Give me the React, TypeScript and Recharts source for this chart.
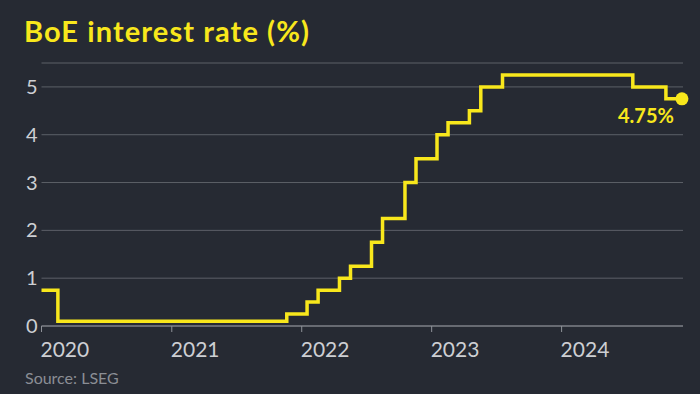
import { LineChart, Line, XAxis, YAxis, CartesianGrid } from 'recharts'

// step dates and the rate that starts on each
const dates = [
  '2020-01-01', '2020-02-16', '2021-11-20', '2022-01-16', '2022-02-16',
  '2022-04-17', '2022-05-18', '2022-07-16', '2022-08-16', '2022-10-18',
  '2022-11-18', '2023-01-16', '2023-02-16', '2023-04-17', '2023-05-19',
  '2023-07-19', '2024-07-19', '2024-10-20', '2024-12-04'
]
const rates = [
  0.75, 0.1, 0.25, 0.5, 0.75,
  1.0, 1.25, 1.75, 2.25, 3.0,
  3.5, 4.0, 4.25, 4.5, 5.0,
  5.25, 5.0, 4.75, 4.75
]
const yearTicks = ['2020', '2021', '2022', '2023', '2024']
const rateTicks = [0, 1, 2, 3, 4, 5]

const ts = (d: string) => new Date(d + 'T00:00:00Z').getTime()

const data = dates.map((d, i) => ({ t: ts(d), rate: rates[i] }))
const xTicks = yearTicks.map((y) => ts(y + '-01-01'))

const BG = '#262a33'
const YELLOW = '#f8e71c'
const GRID = '#5c6068'
const TEXT = '#cdcfd3'
const FONT = 'Lato, "Noto Sans", sans-serif'

function XTick({ x, y, payload }: any) {
  return (
    <g>
      <line x1={x} x2={x} y1={y - 8} y2={y - 2} stroke="#8e9198" strokeWidth={1} />
      <text x={x - 1} y={y + 23} fill={TEXT} fontSize={21} fontFamily={FONT} textAnchor="start">
        {new Date(payload.value).getUTCFullYear()}
      </text>
    </g>
  )
}

function YTick({ x, y, payload }: any) {
  return (
    <text x={x + 4} y={y + 7} fill={TEXT} fontSize={20} fontFamily={FONT} textAnchor="end">
      {payload.value}
    </text>
  )
}

function EndDot(props: any) {
  const { cx, cy, index } = props
  if (index !== data.length - 1) return <g key={index} />
  return (
    <g key={index}>
      <circle cx={cx} cy={cy} r={6.5} fill={YELLOW} />
      <text x={cx - 8} y={cy + 24} fill={YELLOW} fontSize={20} fontWeight={700} fontFamily={FONT} textAnchor="end">
        {rates[rates.length - 1]}%
      </text>
    </g>
  )
}

export default function App() {
  return (
    <div style={{ position: 'absolute', left: 0, top: 0, width: 700, height: 394, background: BG }}>
      <div
        style={{
          position: 'absolute', left: 24, top: 13, color: YELLOW, fontFamily: FONT,
          fontWeight: 700, fontSize: 29, lineHeight: '36px', letterSpacing: '1.1px'
        }}
      >
        BoE interest rate (%)
      </div>
      <div
        style={{
          position: 'absolute', left: 25, top: 368, color: '#8b8e95', fontFamily: FONT,
          fontSize: 16, lineHeight: '20px'
        }}
      >
        Source: LSEG
      </div>
      <div style={{ position: 'absolute', left: 0, top: 0 }}>
        <LineChart width={700} height={394} data={data} margin={{ top: 63, right: 17, left: 0, bottom: 0 }}>
          <CartesianGrid horizontal vertical={false} stroke={GRID} strokeWidth={1} />
          <XAxis
            dataKey="t"
            type="number"
            domain={[ts('2020-01-01'), ts('2024-12-07')]}
            ticks={xTicks}
            height={68}
            axisLine={{ stroke: '#8e9198', strokeWidth: 1 }}
            tickLine={false}
            tick={<XTick />}
            interval={0}
          />
          <YAxis
            type="number"
            domain={[0, 5.5]}
            ticks={rateTicks}
            width={41.5}
            axisLine={false}
            tickLine={false}
            tick={<YTick />}
            interval={0}
          />
          <Line
            type="stepAfter"
            dataKey="rate"
            stroke={YELLOW}
            strokeWidth={3.5}
            dot={EndDot}
            activeDot={false}
            isAnimationActive={false}
          />
        </LineChart>
      </div>
    </div>
  )
}
